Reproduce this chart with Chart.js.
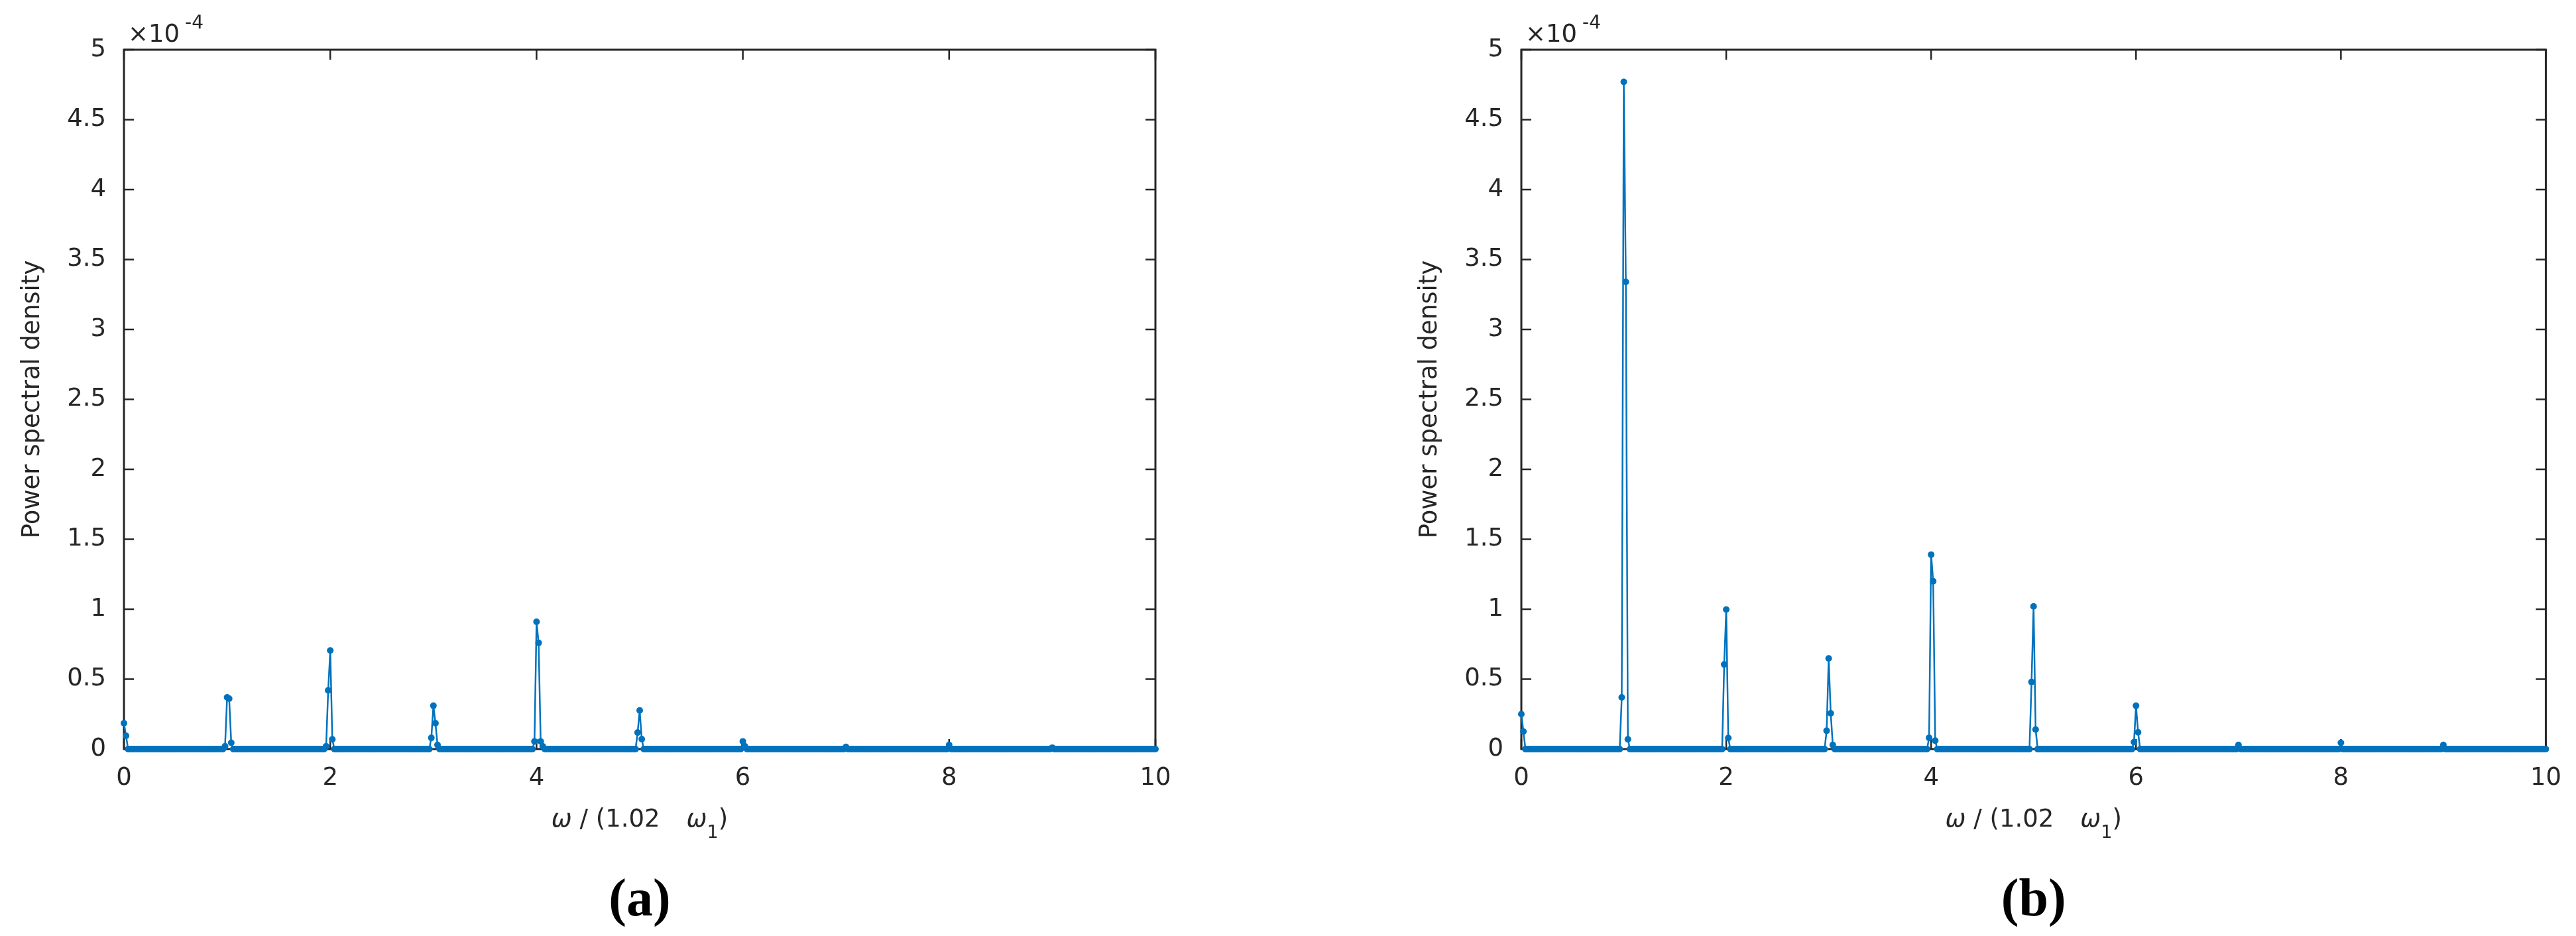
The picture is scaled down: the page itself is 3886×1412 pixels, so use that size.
<!DOCTYPE html>
<html>
<head>
<meta charset="utf-8">
<script src="https://cdn.jsdelivr.net/npm/chart.js@4.4.1/dist/chart.umd.min.js"></script>
<style>
  html, body { margin: 0; padding: 0; background: #fff; }
  #wrap { position: relative; width: 3886px; height: 1412px; }
  .panel { position: absolute; top: 0; width: 1943px; height: 1412px; }
</style>
</head>
<body>
<div id="wrap">
  <div class="panel" style="left:0"><canvas id="chartA" width="1943" height="1412"></canvas></div>
  <div class="panel" style="left:1943px"><canvas id="chartB" width="1943" height="1412"></canvas></div>
</div>
<script>
// frequency axis is omega / (1.02 omega_1), spectrum sampled every 0.02
var freqStep = 0.02;
var freqMax = 10;
var xTicks = [0, 2, 4, 6, 8, 10];
var yTicks = [0, 0.5, 1, 1.5, 2, 2.5, 3, 3.5, 4, 4.5, 5];
var yExponent = '-4';

// PSD (x 1e-4) at the samples around each harmonic; every other sample sits at 0
var peakFreqA = [0.00, 0.02, 0.98, 1.00, 1.02, 1.04, 1.96, 1.98, 2.00, 2.02, 2.98, 3.00, 3.02, 3.04,
                 3.98, 4.00, 4.02, 4.04, 4.06, 4.98, 5.00, 5.02, 6.00, 6.02, 7.00, 8.00, 9.00];
var peakPsdA  = [0.185, 0.095, 0.02, 0.37, 0.36, 0.045, 0.02, 0.42, 0.705, 0.07, 0.08, 0.31, 0.185, 0.03,
                 0.055, 0.91, 0.76, 0.055, 0.02, 0.118, 0.276, 0.071, 0.055, 0.02, 0.015, 0.03, 0.01];

var peakFreqB = [0.00, 0.02, 0.98, 1.00, 1.02, 1.04, 1.98, 2.00, 2.02, 2.98, 3.00, 3.02, 3.04,
                 3.98, 4.00, 4.02, 4.04, 4.98, 5.00, 5.02, 5.98, 6.00, 6.02, 7.00, 8.00, 9.00];
var peakPsdB  = [0.25, 0.126, 0.37, 4.77, 3.34, 0.07, 0.605, 0.998, 0.079, 0.131, 0.648, 0.256, 0.03,
                 0.08, 1.39, 1.2, 0.06, 0.48, 1.02, 0.14, 0.05, 0.31, 0.12, 0.03, 0.045, 0.03];

var lineColor = '#0072BD';
var axisColor = '#262626';
var tickFont = 'DejaVu Sans';

function buildSeries(peakFreq, peakPsd) {
  var pts = [];
  var n = Math.round(freqMax / freqStep);
  for (var i = 0; i <= n; i++) {
    var f = +(i * freqStep).toFixed(2);
    var k = peakFreq.indexOf(f);
    pts.push({ x: f, y: k >= 0 ? peakPsd[k] : 0 });
  }
  return pts;
}

// matlab style box, inward ticks, exponent, x label and panel tag
var matlabFrame = {
  id: 'matlabFrame',
  beforeDatasetsDraw: function (chart) {
    var ctx = chart.ctx, a = chart.chartArea;
    var xs = chart.scales.x, ys = chart.scales.y;
    ctx.save();
    ctx.strokeStyle = axisColor;
    ctx.lineWidth = 3;
    ctx.strokeRect(a.left, a.top, a.right - a.left, a.bottom - a.top);
    ctx.lineWidth = 2.5;
    ctx.beginPath();
    yTicks.forEach(function (v) {
      var py = ys.getPixelForValue(v);
      ctx.moveTo(a.left, py); ctx.lineTo(a.left + 15, py);
      ctx.moveTo(a.right, py); ctx.lineTo(a.right - 15, py);
    });
    xTicks.forEach(function (v) {
      var px = xs.getPixelForValue(v);
      ctx.moveTo(px, a.bottom); ctx.lineTo(px, a.bottom - 15);
      ctx.moveTo(px, a.top); ctx.lineTo(px, a.top + 15);
    });
    ctx.stroke();
    ctx.restore();
  },
  afterDraw: function (chart, args, opts) {
    var ctx = chart.ctx, a = chart.chartArea;
    ctx.save();
    ctx.fillStyle = axisColor;
    ctx.textBaseline = 'alphabetic';
    ctx.textAlign = 'left';
    // x 10^-4
    ctx.font = '37px "' + tickFont + '"';
    ctx.fillText('\u00d710', a.left + 6, 63);
    var w = ctx.measureText('\u00d710').width;
    ctx.font = '28px "' + tickFont + '"';
    ctx.fillText(yExponent, a.left + 6 + w + 8, 43);

    // x axis label: omega / (1.02  omega_1)
    var parts = [
      { t: '\u03c9', f: 'italic 37px "' + tickFont + '"', dy: 0 },
      { t: ' / (1.02', f: '37px "' + tickFont + '"', dy: 0 },
      { t: '', gap: 40 },
      { t: '\u03c9', f: 'italic 37px "' + tickFont + '"', dy: 0 },
      { t: '1', f: '27px "' + tickFont + '"', dy: 17 },
      { t: ')', f: '37px "' + tickFont + '"', dy: 0 }
    ];
    var total = 0;
    parts.forEach(function (p) {
      if (p.gap) { p.w = p.gap; } else { ctx.font = p.f; p.w = ctx.measureText(p.t).width; }
      total += p.w;
    });
    var cx = (a.left + a.right) / 2;
    var x = cx - total / 2;
    parts.forEach(function (p) {
      if (!p.gap) { ctx.font = p.f; ctx.fillText(p.t, x, 1247 + p.dy); }
      x += p.w;
    });

    // panel tag
    ctx.fillStyle = '#000';
    ctx.textAlign = 'center';
    ctx.font = 'bold 80px "Liberation Serif"';
    ctx.fillText(opts.tag, cx, 1381);
    ctx.restore();
  }
};

function makeChart(id, series, plotLeft, plotRight, titlePad, tag) {
  return new Chart(document.getElementById(id), {
    type: 'line',
    data: {
      datasets: [{
        data: series,
        borderColor: lineColor,
        backgroundColor: lineColor,
        borderWidth: 2.5,
        pointRadius: 5,
        pointBorderWidth: 0,
        pointBackgroundColor: lineColor,
        tension: 0,
        fill: false,
        clip: false
      }]
    },
    options: {
      responsive: false,
      devicePixelRatio: 1,
      animation: false,
      events: [],
      layout: { padding: { left: 0, top: 75, right: 1943 - plotRight, bottom: 0 } },
      plugins: {
        legend: { display: false },
        tooltip: { enabled: false },
        matlabFrame: { tag: tag }
      },
      scales: {
        x: {
          type: 'linear',
          min: 0,
          max: freqMax,
          grid: { display: false, drawTicks: false },
          border: { display: false },
          afterBuildTicks: function (s) { s.ticks = xTicks.map(function (v) { return { value: v }; }); },
          afterFit: function (s) { s.height = 1412 - 1130; },
          ticks: {
            color: axisColor,
            font: { family: tickFont, size: 37 },
            padding: 22,
            maxRotation: 0,
            autoSkip: false
          }
        },
        y: {
          type: 'linear',
          min: 0,
          max: 5,
          grid: { display: false, drawTicks: false },
          border: { display: false },
          afterBuildTicks: function (s) { s.ticks = yTicks.map(function (v) { return { value: v }; }); },
          afterFit: function (s) { s.width = plotLeft; },
          ticks: {
            color: axisColor,
            font: { family: tickFont, size: 37 },
            padding: 27,
            autoSkip: false,
            callback: function (v) { return String(v); }
          },
          title: {
            display: true,
            text: 'Power spectral density',
            color: axisColor,
            font: { family: tickFont, size: 37 },
            padding: { top: titlePad, bottom: 0 }
          }
        }
      }
    },
    plugins: [matlabFrame]
  });
}

makeChart('chartA', buildSeries(peakFreqA, peakPsdA), 187, 1743, 27, '(a)');
makeChart('chartB', buildSeries(peakFreqB, peakPsdB), 352, 1908, 192, '(b)');
</script>
</body>
</html>
